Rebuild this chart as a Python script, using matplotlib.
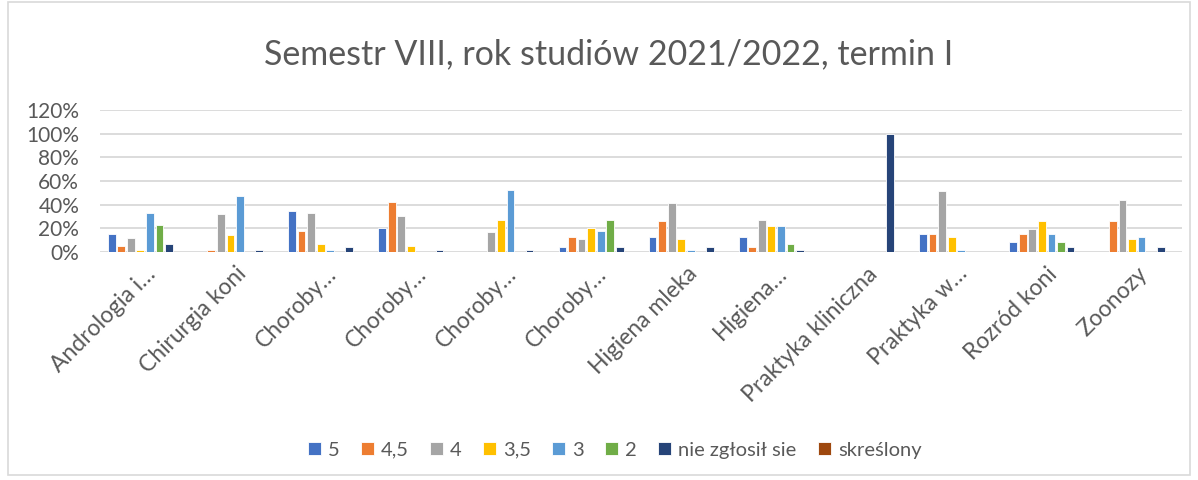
import numpy as np
import matplotlib.pyplot as plt
from matplotlib.patches import Rectangle
from matplotlib.ticker import PercentFormatter

plt.rcParams['font.family'] = ['Lato', 'DejaVu Sans']

categories = ['Andrologia i…', 'Chirurgia koni', 'Choroby…', 'Choroby…', 'Choroby…',
              'Choroby…', 'Higiena mleka', 'Higiena…', 'Praktyka kliniczna',
              'Praktyka w…', 'Rozród koni', 'Zoonozy']

series_names = ['5', '4,5', '4', '3,5', '3', '2', 'nie zgłosił sie', 'skreślony']

# udziały ocen w każdym przedmiocie
s5 = [0.15, 0.00, 0.35, 0.20, 0.00, 0.04, 0.13, 0.13, 0.00, 0.155, 0.085, 0.00]
s45 = [0.05, 0.02, 0.175, 0.42, 0.00, 0.13, 0.26, 0.04, 0.00, 0.155, 0.15, 0.26]
s4 = [0.12, 0.32, 0.33, 0.30, 0.17, 0.11, 0.415, 0.27, 0.00, 0.515, 0.195, 0.44]
s35 = [0.02, 0.14, 0.065, 0.05, 0.27, 0.20, 0.107, 0.22, 0.00, 0.13, 0.26, 0.107]
s3 = [0.33, 0.47, 0.02, 0.00, 0.52, 0.175, 0.02, 0.22, 0.00, 0.02, 0.15, 0.13]
s2 = [0.225, 0.00, 0.00, 0.00, 0.00, 0.27, 0.00, 0.065, 0.00, 0.00, 0.085, 0.00]
nie = [0.07, 0.02, 0.04, 0.02, 0.02, 0.04, 0.04, 0.02, 1.00, 0.00, 0.04, 0.04]
skreslony = [0, 0, 0, 0, 0, 0, 0, 0, 0, 0, 0, 0]

colors = ['#4472C4', '#ED7D31', '#A5A5A5', '#FFC000', '#5B9BD5', '#70AD47', '#264478', '#9E480E']
txt = '#595959'

fig = plt.figure(figsize=(11.98, 4.8), dpi=100)
ax = fig.add_axes([0.0835, 0.475, 0.903, 0.296])

x = np.arange(len(categories))
step = 0.106
width = 0.086
data = [s5, s45, s4, s35, s3, s2, nie, skreslony]
for i, (name, vals) in enumerate(zip(series_names, data)):
    ax.bar(x + (i - 3.5) * step, vals, width, color=colors[i], label=name,
           edgecolor='white', linewidth=0.6, zorder=3)

ax.set_xlim(-0.5, len(categories) - 0.5)
ax.set_ylim(0, 1.2)
ax.set_yticks(np.arange(0, 1.21, 0.2))
ax.yaxis.set_major_formatter(PercentFormatter(1.0, decimals=0))
ax.grid(axis='y', color='#D9D9D9', linewidth=1.3, zorder=0)
for s in ax.spines.values():
    s.set_visible(False)
ax.tick_params(axis='both', length=0, colors=txt, labelsize=15)
ax.tick_params(axis='y', pad=15)
ax.set_xticks(x)
ax.set_xticklabels(categories, rotation=45, ha='right', rotation_mode='anchor', fontsize=16.5)
ax.tick_params(axis='x', pad=8)

fig.suptitle('Semestr VIII, rok studiów 2021/2022, termin I', fontsize=24.5, color=txt,
             x=0.508, y=0.92)

fig.legend(loc='center', bbox_to_anchor=(0.513, 0.062), ncol=8, frameon=False,
           fontsize=14.5, labelcolor=txt, handlelength=0.65, handleheight=0.65,
           handletextpad=0.35, columnspacing=1.05)

fig.patches.append(Rectangle((0.007, 0.01), 0.986, 0.985, transform=fig.transFigure,
                             fill=False, edgecolor='#D9D9D9', linewidth=1.2))

fig.savefig('out.png', dpi=100)
